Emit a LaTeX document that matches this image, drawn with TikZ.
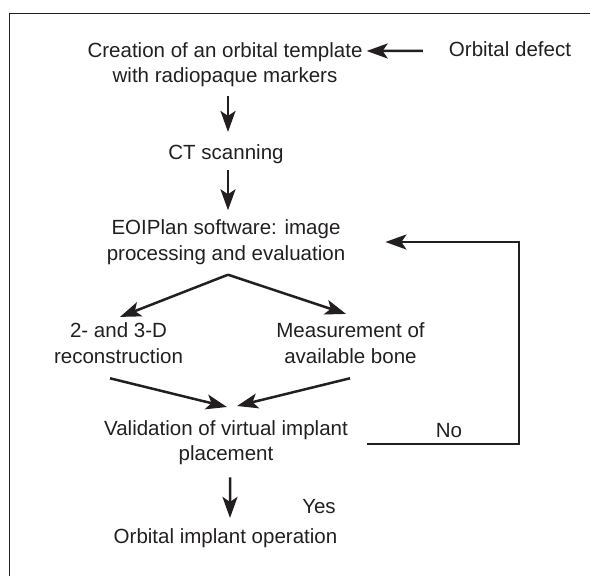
\documentclass[tikz,border=0pt]{standalone}
\usepackage{fontspec}
\setmainfont{Liberation Sans}
\usetikzlibrary{arrows.meta,calc}
\definecolor{ink}{HTML}{231F20}
\begin{document}
\begin{tikzpicture}[x=1bp,y=-1bp,
  lbl/.style={font=\fontsize{20.6}{26}\selectfont, align=center, inner sep=0pt, text=ink},
  arr/.style={line width=2.5bp, draw=ink, -{Stealth[length=21bp,width=15bp,inset=5bp]}},
  frameline/.style={line width=1.4bp, draw=ink}]
\useasboundingbox (0,0) rectangle (590,576);
\draw[frameline] (9.5,577) -- (9.5,13.5) -- (591,13.5);

\node[lbl] (create) at (225,64.7) {Creation of an orbital template\\with radiopaque markers};
\node[lbl, anchor=base] (defect) at (510,57) {Orbital defect};
\node[lbl, anchor=base] (ct) at (226,160) {CT scanning};
\node[lbl] (eoi) at (226,242) {EOIPlan software: image\\processing and evaluation};
\node[lbl] (recon) at (118.5,343.6) {2- and 3-D\\reconstruction};
\node[lbl] (meas) at (350.5,343.6) {Measurement of\\available bone};
\node[lbl] (valid) at (226,442.7) {Validation of virtual implant\\placement};
\node[lbl, anchor=base] (oper) at (225.5,543) {Orbital implant operation};
\node[lbl, anchor=base] (yes) at (319,513) {Yes};
\node[lbl, anchor=base] (no) at (449,437) {No};

% arrows
\draw[arr] ($(defect.base west)+(-26,-6)$) -- ($(create.north east)+(4,9)$);
\draw[arr] ($(create.south)+(3,9)$) -- ($(ct.north)+(2,-13)$);
\draw[arr] ($(ct.south)+(2,6)$) -- ($(eoi.north)+(2,-9)$);
\draw[arr] ($(eoi.south)+(2,10)$) -- ($(recon.north)+(1.5,-6)$);
\draw[arr] ($(eoi.south)+(2,10)$) -- ($(meas.north)+(-4.5,-9)$);
\draw[arr] ($(recon.south)+(-8.5,14)$) -- ($(valid.north)+(1,-13)$);
\draw[arr] ($(meas.south)+(-0.5,14)$) -- ($(valid.north)+(11,-14)$);
\draw[arr] ($(valid.south)+(4,12)$) -- ($(oper.north)+(4.5,-10)$);
\coordinate (loopbr) at ($(valid.east)+(171,1.3)$);
\draw[arr] ($(valid.east)+(19,1.3)$) -- (loopbr) |- ($(eoi.east)+(40,0)$);
\end{tikzpicture}
\end{document}
